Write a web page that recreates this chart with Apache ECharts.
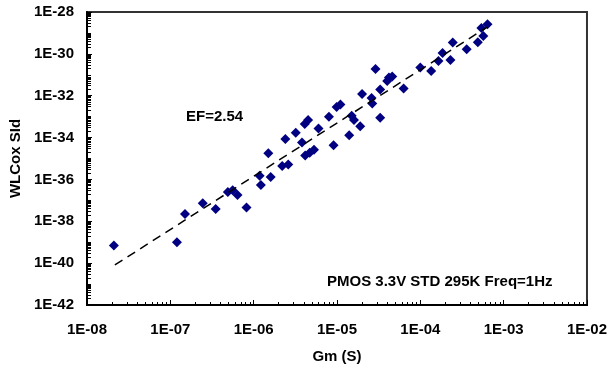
<!DOCTYPE html>
<html><head><meta charset="utf-8">
<script src="https://cdn.jsdelivr.net/npm/echarts@6/dist/echarts.min.js"></script>
<style>html,body{margin:0;padding:0;background:#fff}#c{width:610px;height:369px}</style>
</head><body><div id="c"></div>
<script>
// Data
const gm = [2.1e-8, 1.2e-7, 1.5e-7, 2.45e-7, 3.5e-7, 4.9e-7, 5.6e-7, 6.4e-7, 8.2e-7, 1.18e-6,
  1.6e-6, 1.22e-6, 1.5e-6, 2.2e-6, 2.6e-6, 2.4e-6, 3.2e-6, 3.8e-6, 4.1e-6, 4.5e-6,
  4.15e-6, 4.7e-6, 5.3e-6, 6.0e-6, 8.0e-6, 9.1e-6, 9.9e-6, 1.1e-5, 1.4e-5, 1.5e-5,
  1.6e-5, 1.9e-5, 2.0e-5, 2.6e-5, 2.65e-5, 2.9e-5, 3.3e-5, 3.3e-5, 4.2e-5, 4.6e-5,
  4.0e-5, 6.3e-5, 1.0e-4, 1.35e-4, 1.65e-4, 1.85e-4, 2.3e-4, 2.45e-4, 3.6e-4, 4.9e-4,
  5.4e-4, 6.4e-4, 5.7e-4];
const sid = [7.0e-40, 1.0e-39, 2.2e-38, 7.2e-38, 3.9e-38, 2.5e-37, 3.0e-37, 1.8e-37, 4.6e-38, 1.5e-36,
  1.3e-36, 5.4e-37, 1.8e-35, 4.4e-36, 5.2e-36, 8.5e-35, 1.7e-34, 5.8e-35, 4.5e-34, 6.9e-34,
  1.4e-35, 1.9e-35, 2.6e-35, 2.7e-34, 1.0e-33, 4.3e-35, 2.9e-33, 3.8e-33, 1.3e-34, 1.1e-33,
  6.9e-34, 3.5e-34, 1.2e-32, 7.8e-33, 4.2e-33, 1.9e-31, 2.0e-32, 8.8e-34, 7.4e-32, 8.3e-32,
  5.0e-32, 2.2e-32, 2.2e-31, 1.5e-31, 4.6e-31, 1.1e-30, 5.1e-31, 3.5e-30, 1.65e-30, 3.6e-30,
  1.7e-29, 2.6e-29, 7.1e-30];
const fitGm = [2.16e-8, 6.34e-4];
const fitSid = [8.2e-41, 1.9e-29];
const xMajorExps = [-8, -7, -6, -5, -4, -3, -2];
const yMajorExps = [-42, -40, -38, -36, -34, -32, -30, -28];
const minorMultipliers = [2, 3, 4, 5, 6, 7, 8, 9];
const efText = 'EF=2.54';
const condText = 'PMOS 3.3V STD 295K Freq=1Hz';

const FONT = "'Liberation Sans', Arial, sans-serif";
const pow = e => Math.pow(10, e);
const xMajor = xMajorExps.map(pow);
const xMinor = [];
for (let e = -8; e < -2; e++) minorMultipliers.forEach(m => xMinor.push(m * pow(e)));
// y axis works in exponent space (log10 of the value): the library's log scale
// rounds values this small to zero, so the values are transformed with Math.log10.
const yMinor = [];
for (let e = -42; e < -28; e++) {
  if (e % 2 !== 0) yMinor.push(e);
  minorMultipliers.forEach(m => yMinor.push(e + Math.log10(m)));
}
function expLabel(e) {
  const a = Math.abs(e);
  return '1E' + (e < 0 ? '-' : '+') + (a < 10 ? '0' + a : '' + a);
}
const fmtX = v => expLabel(Math.round(Math.log10(v)));
const fmtY = v => expLabel(Math.round(v));
const lab = {fontFamily: FONT, fontWeight: 'bold', fontSize: 15, color: '#000'};

const chart = echarts.init(document.getElementById('c'), null, {renderer: 'canvas'});
chart.setOption({
  animation: false,
  backgroundColor: '#fff',
  grid: {left: 87, top: 12, right: 22, bottom: 64, show: true, borderColor: '#333', borderWidth: 2, backgroundColor: 'transparent'},
  xAxis: [{
    type: 'log', logBase: 10, min: 1e-8, max: 1e-2, position: 'bottom',
    axisLine: {show: true, onZero: false, lineStyle: {color: '#000', width: 2}},
    axisTick: {show: true, inside: true, length: 5, customValues: xMajor, lineStyle: {color: '#000', width: 1}},
    axisLabel: Object.assign({customValues: xMajor, formatter: fmtX, margin: 17}, lab),
    splitLine: {show: false}, minorTick: {show: false},
    name: 'Gm (S)', nameLocation: 'middle', nameGap: 44, nameTextStyle: lab
  }, {
    type: 'log', logBase: 10, min: 1e-8, max: 1e-2, position: 'bottom',
    axisLine: {show: false},
    axisTick: {show: true, inside: true, length: 3, customValues: xMinor, lineStyle: {color: '#000', width: 1}},
    axisLabel: {show: false}, splitLine: {show: false}
  }],
  yAxis: [{
    type: 'value', min: -42, max: -28, interval: 2, position: 'left',
    axisLine: {show: true, onZero: false, lineStyle: {color: '#000', width: 2}},
    axisTick: {show: true, inside: true, length: 5, customValues: yMajorExps, lineStyle: {color: '#000', width: 1}},
    axisLabel: Object.assign({customValues: yMajorExps, formatter: fmtY, margin: 13}, lab),
    splitLine: {show: false},
    name: 'WLCox SId', nameLocation: 'middle', nameGap: 62, nameTextStyle: lab
  }, {
    type: 'value', min: -42, max: -28, interval: 2, position: 'left',
    axisLine: {show: false},
    axisTick: {show: true, inside: true, length: 4, customValues: yMinor, lineStyle: {color: '#000', width: 1}},
    axisLabel: {show: false}, splitLine: {show: false}
  }],
  series: [{
    type: 'scatter', xAxisIndex: 0, yAxisIndex: 0,
    data: gm.map((g, i) => [g, Math.log10(sid[i])]),
    symbol: 'diamond', symbolSize: 10,
    itemStyle: {color: '#000080', opacity: 1}, z: 2
  }, {
    type: 'line', xAxisIndex: 0, yAxisIndex: 0,
    data: fitGm.map((g, i) => [g, Math.log10(fitSid[i])]),
    showSymbol: false, symbol: 'none',
    lineStyle: {color: '#000', width: 1.5, type: [9, 6]}, z: 3
  }],
  graphic: [
    {type: 'text', left: 186, top: 109, style: {text: efText, font: 'bold 15px ' + FONT, fill: '#000'}},
    {type: 'text', left: 327, top: 274, style: {text: condText, font: 'bold 15px ' + FONT, fill: '#000'}}
  ]
});
</script>
</body></html>
